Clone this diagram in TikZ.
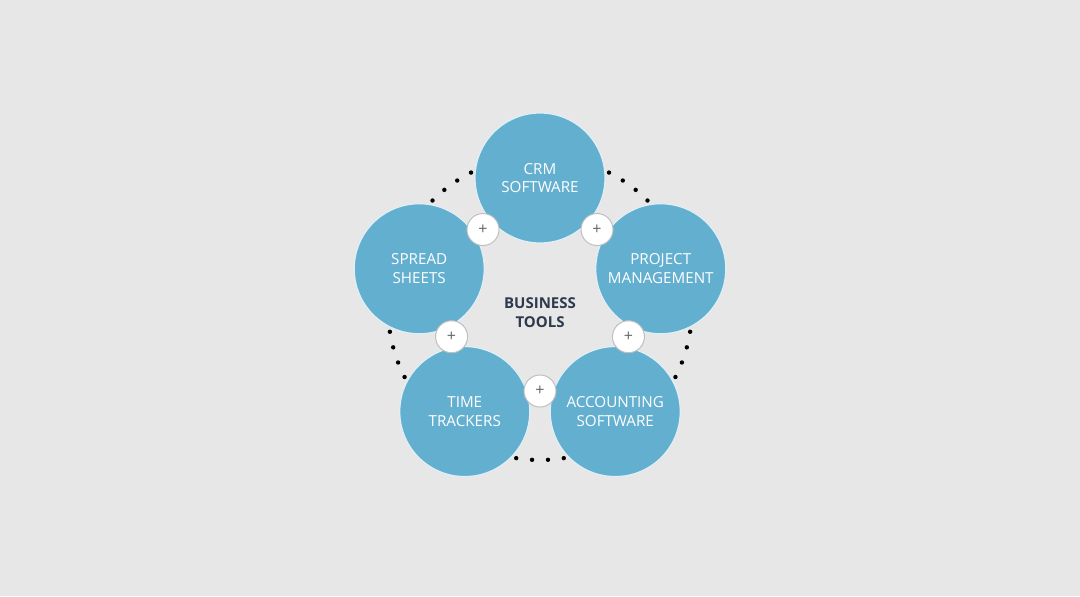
\documentclass[tikz,border=0pt]{standalone}
\usepackage{fontspec}
\setmainfont{Open Sans}
\usetikzlibrary{calc}
\usetikzlibrary{positioning}
\definecolor{bgGrey}{HTML}{E7E7E7}
\definecolor{toolBlue}{HTML}{63AFD0}
\definecolor{toolNavy}{HTML}{2E3A4C}
\tikzset{
  toolNode/.style={%
    circle, minimum size=65pt, inner sep=0pt, fill=toolBlue, draw=white!80!toolBlue,
    line width=0.6pt, text=white, align=center, font=\fontsize{7.6}{9.3}\selectfont,
  },
  plusNode/.style={%
    circle, minimum size=16pt, inner sep=0pt, fill=white, draw=black!25,
    line width=0.5pt, text=black!60, font=\fontsize{8}{8}\selectfont,
  },
  dotNode/.style={circle, fill=black, minimum size=2.2pt, inner sep=0pt},
}
\begin{document}
\begin{tikzpicture}[x=0.5pt,y=0.5pt]
  \fill[bgGrey] (0,0) rectangle (1080,596);
  \useasboundingbox (0,0) rectangle (1080,596);
  \coordinate (hub) at (540,288);
  % dotted arcs between the tools
  \foreach \a in {126,54,-18,-90,-162}
    \foreach \d in {-9,-3,3,9}
      \node[dotNode] (dot\a\d) at ($(hub)+(\a+\d:152)$) {};
  % tools
  \node[toolNode] (crm) at ($(hub)+(90:130)$) {CRM\\SOFTWARE};
  \node[toolNode] (project) at ($(hub)+(18:127)$) {PROJECT\\MANAGEMENT};
  \node[toolNode] (accounting) at ($(hub)+(-54:128)$) {ACCOUNTING\\SOFTWARE};
  \node[toolNode] (time) at ($(hub)+(-126:128)$) {TIME\\TRACKERS};
  \node[toolNode] (spread) at ($(hub)+(162:127)$) {SPREAD\\SHEETS};
  \node[align=center, text=toolNavy, font=\bfseries\fontsize{7.5}{9.5}\selectfont]
    (title) at ($(hub)+(0,-5)$) {BUSINESS\\TOOLS};
  % plus buttons
  \node[plusNode] (plus1) at ($(hub)+(54:97)$) {+};
  \node[plusNode] (plus2) at ($(hub)+(-18:93)$) {+};
  \node[plusNode] (plus3) at ($(hub)+(-90:83)$) {+};
  \node[plusNode] (plus4) at ($(hub)+(-162:93)$) {+};
  \node[plusNode] (plus5) at ($(hub)+(126:97)$) {+};
\end{tikzpicture}
\end{document}
